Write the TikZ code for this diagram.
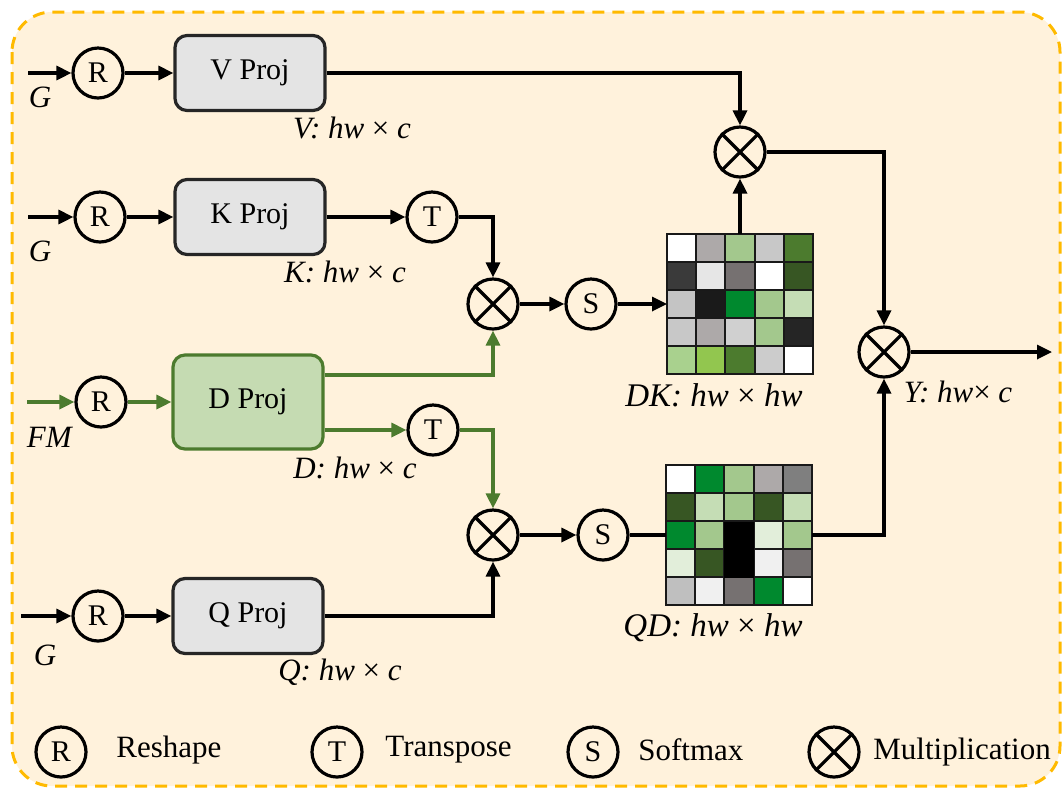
\documentclass[tikz,border=0pt]{standalone}
\usepackage{fontspec}
\setmainfont{Liberation Serif}
\usetikzlibrary{arrows.meta,calc}
\definecolor{bgcream}{HTML}{FFF2DC}
\definecolor{frameorange}{HTML}{FFBA00}
\definecolor{boxgray}{HTML}{E4E4E4}
\definecolor{dfill}{HTML}{C5DBB2}
\definecolor{dgreen}{HTML}{4C7B2E}
\definecolor{mcA}{HTML}{ADA9A9}
\definecolor{mcLG}{HTML}{A3C88D}
\definecolor{mcCE}{HTML}{C8C8C8}
\definecolor{mcDG}{HTML}{4C7B2E}
\definecolor{mcDA}{HTML}{3A3A3A}
\definecolor{mcEE}{HTML}{E6E6E6}
\definecolor{mcMA}{HTML}{767171}
\definecolor{mcDD}{HTML}{375623}
\definecolor{mcCF}{HTML}{C4C4C4}
\definecolor{mcBK}{HTML}{1A1A1A}
\definecolor{mcBG}{HTML}{00892E}
\definecolor{mcPG}{HTML}{C5DDB5}
\definecolor{mcDO}{HTML}{D0D0D0}
\definecolor{mcDB}{HTML}{252525}
\definecolor{mcAN}{HTML}{A9D18E}
\definecolor{mcYG}{HTML}{92C64F}
\definecolor{mcCC}{HTML}{CCCCCC}
\definecolor{mcVP}{HTML}{E2EEDA}
\definecolor{mcFO}{HTML}{F0F0F0}
\definecolor{mcMB}{HTML}{7F7F7F}
\definecolor{mcBF}{HTML}{BFBFBF}
\tikzset{
  ln/.style={line width=1.6pt},
  arr/.style={ln,-{Triangle[length=7.5pt,width=7pt]}},
  garr/.style={arr,draw=dgreen},
  gln/.style={ln,draw=dgreen},
  op/.style={circle,draw,line width=1.6pt,minimum size=25pt,inner sep=0pt,font=\fontsize{15}{16}\selectfont},
  mul/.style={circle,draw,line width=1.6pt,minimum size=25pt,inner sep=0pt},
  proj/.style={rectangle,rounded corners=6pt,draw=black!85,line width=1.6pt,fill=boxgray,minimum width=75pt,minimum height=37.5pt,font=\fontsize{15}{16}\selectfont},
  dproj/.style={proj,draw=dgreen,fill=dfill,minimum height=47pt},
  lab/.style={font=\fontsize{15.5}{17}\selectfont,inner sep=0pt},
  mlab/.style={font=\fontsize{16.5}{18}\selectfont,inner sep=0pt},
  leg/.style={font=\fontsize{15.5}{17}\selectfont,inner sep=0pt,anchor=west},
  cell/.style={draw=black!90,line width=1pt},
  mat/.style={rectangle,minimum width=73pt,minimum height=70pt,inner sep=0pt,outer sep=0pt}
}
\newcommand{\mulnode}[2]{\node[mul] (#1) at (#2) {};
  \draw[ln] (#1.45)--(#1.225) (#1.135)--(#1.315);}
\begin{document}
\begin{tikzpicture}[x=0.5pt,y=-0.5pt]
\useasboundingbox (0,0) rectangle (1064,789);
\draw[frameorange,fill=bgcream,line width=1.5pt,dash pattern=on 6pt off 4pt,rounded corners=20pt] (12,12) rectangle (1060,786);

% input coordinates
\coordinate (in1) at (28,73);
\coordinate (in2) at (28,217);
\coordinate (in3) at (27,402);
\coordinate (in4) at (21,616);
\coordinate (out) at (1052,352);

% reshape nodes
\node[op] (R1) at (98,73) {R};
\node[op] (R2) at (100,217) {R};
\node[op] (R3) at (101,402) {R};
\node[op] (R4) at (98,616) {R};

% projection boxes
\node[proj] (V) at (250,73) {V Proj};
\node[proj] (K) at (250,217) {K Proj};
\node[dproj] (D) at (248,402) {D Proj};
\node[proj] (Q) at (248,616) {Q Proj};

% transposes and softmaxes
\node[op] (T1) at (432,217) {T};
\node[op] (T2) at (433,430) {T};
\node[op] (S1) at (591,304) {S};
\node[op] (S2) at (603,535) {S};

% multiplications
\mulnode{M1}{740,152}
\mulnode{M2}{493,304}
\mulnode{M3}{884,352}
\mulnode{M4}{493,535}

% matrices
\node[mat] (DK) at (740,304) {};
\node[mat] (QD) at (739,535) {};
\foreach \row [count=\r from 0] in {{white,mcA,mcLG,mcCE,mcDG},{mcDA,mcEE,mcMA,white,mcDD},{mcCF,mcBK,mcBG,mcLG,mcPG},{mcCE,mcA,mcDO,mcLG,mcDB},{mcAN,mcYG,mcDG,mcCC,white}}{
  \foreach \col [count=\c from 0] in \row {
    \draw[cell,fill=\col] ({667+\c*29.2},{234+\r*28}) rectangle ++(29.2,28);
  }
}
\foreach \row [count=\r from 0] in {{white,mcBG,mcLG,mcA,mcMB},{mcDD,mcPG,mcLG,mcDD,mcPG},{mcBG,mcLG,black,mcVP,mcLG},{mcVP,mcDD,black,mcFO,mcMA},{mcBF,mcFO,mcMA,mcBG,white}}{
  \foreach \col [count=\c from 0] in \row {
    \draw[cell,fill=\col] ({666+\c*29.2},{465+\r*28}) rectangle ++(29.2,28);
  }
}
\fill[black] (724.4,522) rectangle (753.6,578);

% input arrows
\draw[arr] (in1) -- (R1);
\draw[arr] (in2) -- (R2);
\draw[garr] (in3) -- (R3);
\draw[arr] (in4) -- (R4);
\draw[arr] (R1) -- (V);
\draw[arr] (R2) -- (K);
\draw[garr] (R3) -- (D);
\draw[arr] (R4) -- (Q);

% V path
\draw[arr] (V.east) -| (M1.north);
\draw[arr] (DK.north) -- (M1.south);
\draw[arr] (M1.east) -| (M3.north);
\draw[arr] (QD.east) -| (M3.south);
\draw[arr] (M3.east) -- (out);

% K path
\draw[arr] (K.east) -- (T1.west);
\draw[arr] (T1.east) -| (M2.north);
\draw[arr] (M2.east) -- (S1.west);
\draw[arr] (S1.east) -- (DK.west);

% D paths
\draw[garr] ([yshift=13.5pt]D.east) -| (M2.south);
\draw[garr] ([yshift=-14pt]D.east) -- (T2.west);
\draw[garr] (T2.east) -| (M4.north);

% Q path
\draw[arr] (Q.east) -| (M4.south);
\draw[arr] (M4.east) -- (S2.west);
\draw[ln] (S2.east) -- (QD.west);

% labels
\node[lab] (gl1) at (40,97) {\textit{G}};
\node[lab] (gl2) at (40,251) {\textit{G}};
\node[lab] (gl3) at (50,437) {\textit{FM}};
\node[lab] (gl4) at (45,655) {\textit{G}};
\node[lab] (lv) at (352,128) {\textit{V: hw} × \textit{c}};
\node[lab] (lk) at (345,272) {\textit{K: hw} × \textit{c}};
\node[lab] (ld) at (355,468) {\textit{D: hw} × \textit{c}};
\node[lab] (lq) at (340,672) {\textit{Q: hw} × \textit{c}};
\node[mlab] (ldk) at (714,395) {\textit{DK: hw} × \textit{hw}};
\node[mlab] (lqd) at (713,628) {\textit{QD: hw} × \textit{hw}};
\node[lab] (ly) at (958,392) {\textit{Y: hw}× \textit{c}};

% legend
\node[op] (LR) at (61,752) {R};
\node[leg] (LRt) at (116,750) {Reshape};
\node[op] (LT) at (337,752) {T};
\node[leg] (LTt) at (385,750) {Transpose};
\node[op] (LS) at (593,752) {S};
\node[leg] (LSt) at (638,750) {Softmax};
\mulnode{LM}{834,752}
\node[leg] (LMt) at (873,752) {Multiplication};
\end{tikzpicture}
\end{document}
